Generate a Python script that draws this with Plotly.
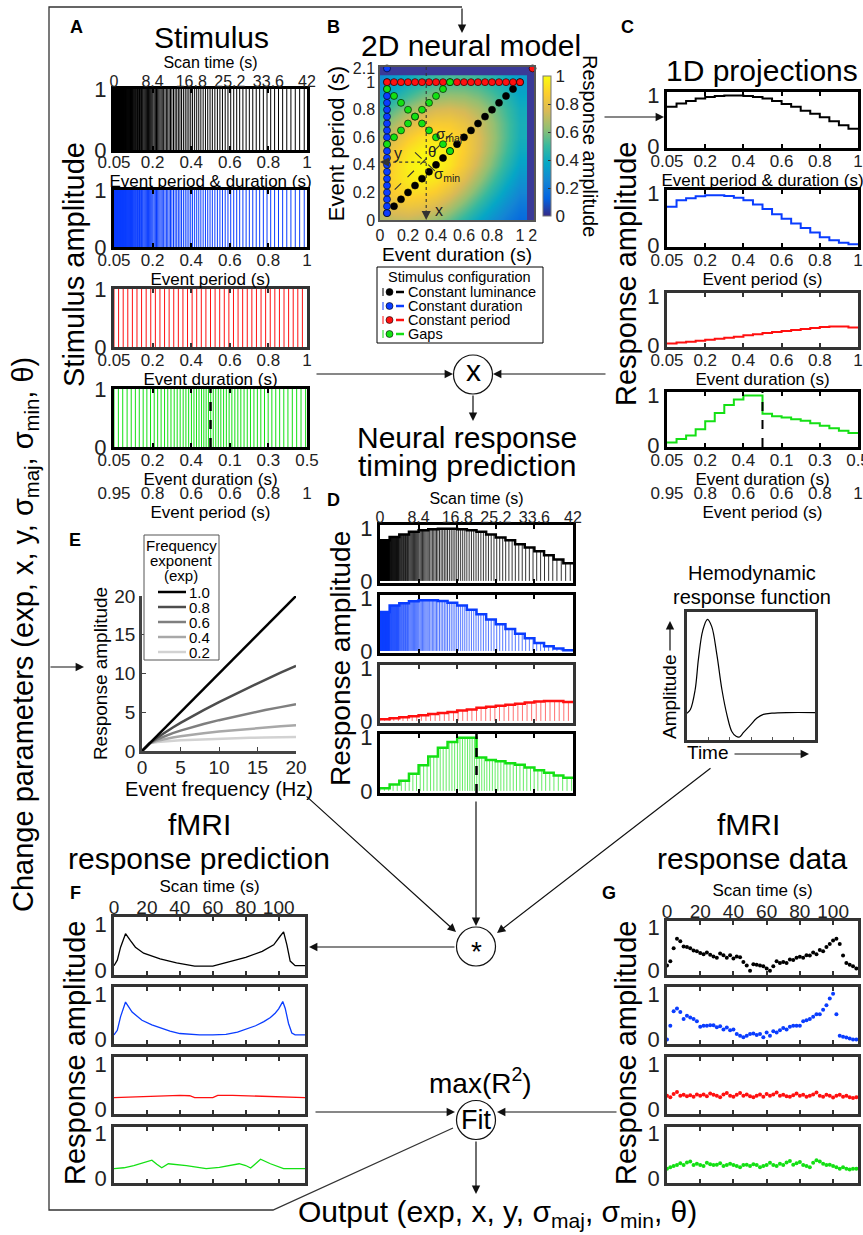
import plotly.graph_objects as go

W, H = 863, 1235
FONT = "Liberation Sans, Arial, Helvetica, sans-serif"


def X(px):
    return px / W


def Y(py):
    return 1 - py / H


# ------------------------------------------------------------------ data
event_values = [0.05, 0.10, 0.15, 0.20, 0.25, 0.30, 0.35, 0.40, 0.45, 0.50,
                0.55, 0.60, 0.65, 0.70, 0.75, 0.80, 0.85, 0.90, 0.95, 1.00]
period_lum = event_values
period_dur = event_values
period_per = [1.00] * 20
gap_duration = [0.05, 0.10, 0.15, 0.20, 0.25, 0.30, 0.35, 0.40, 0.45, 0.50,
                0.05, 0.10, 0.15, 0.20, 0.25, 0.30, 0.35, 0.40, 0.45, 0.50]
gap_period = [0.95, 0.90, 0.85, 0.80, 0.75, 0.70, 0.65, 0.60, 0.55, 0.50,
              0.55, 0.60, 0.65, 0.70, 0.75, 0.80, 0.85, 0.90, 0.95, 1.00]

scan_total = 42.0
scan_ticks = [0, 8.4, 16.8, 25.2, 33.6, 42]
scan_labels = ["0", "8.4", "16.8", "25.2", "33.6", "42"]
event_labels = ["0.05", "0.2", "0.4", "0.6", "0.8", "1"]
gap_dur_labels = ["0.05", "0.2", "0.4", "0.1", "0.3", "0.5"]
gap_per_labels = ["0.95", "0.8", "0.6", "0.6", "0.8", "1"]

resp_lum = [0.78, 0.84, 0.89, 0.94, 0.97, 0.99, 1.00, 1.00, 0.99, 0.97,
            0.94, 0.89, 0.83, 0.78, 0.70, 0.64, 0.57, 0.49, 0.41, 0.34]
resp_dur = [0.745, 0.87, 0.91, 0.95, 0.97, 0.97, 0.955, 0.92, 0.87, 0.79,
            0.70, 0.60, 0.51, 0.42, 0.33, 0.24, 0.15, 0.09, 0.045, 0.013]
resp_per = [0.03, 0.05, 0.07, 0.09, 0.11, 0.13, 0.15, 0.17, 0.20, 0.22,
            0.25, 0.27, 0.29, 0.31, 0.33, 0.35, 0.37, 0.38, 0.38, 0.36]
resp_gap = [0.05, 0.12, 0.19, 0.32, 0.48, 0.645, 0.81, 0.92, 1.00, 1.00,
            0.63, 0.58, 0.555, 0.52, 0.49, 0.44, 0.39, 0.34, 0.29, 0.245]

# 2D neural model (rows: event period 0..1, cols: event duration 0..1)
model_grid = [0.0, 0.1, 0.2, 0.3, 0.4, 0.5, 0.6, 0.7, 0.8, 0.9, 1.0]
model_z = [
    [0.668, 0.705, 0.711, 0.685, 0.631, 0.556, 0.468, 0.376, 0.290, 0.213, 0.150],
    [0.746, 0.800, 0.821, 0.805, 0.755, 0.677, 0.579, 0.474, 0.371, 0.278, 0.199],
    [0.795, 0.869, 0.907, 0.905, 0.863, 0.787, 0.686, 0.571, 0.455, 0.346, 0.252],
    [0.811, 0.901, 0.957, 0.972, 0.944, 0.875, 0.776, 0.658, 0.533, 0.413, 0.306],
    [0.790, 0.894, 0.966, 0.998, 0.986, 0.931, 0.840, 0.724, 0.597, 0.470, 0.354],
    [0.736, 0.847, 0.932, 0.980, 0.984, 0.945, 0.868, 0.762, 0.639, 0.512, 0.393],
    [0.656, 0.768, 0.859, 0.919, 0.940, 0.918, 0.858, 0.766, 0.654, 0.534, 0.416],
    [0.558, 0.665, 0.757, 0.824, 0.857, 0.853, 0.810, 0.736, 0.640, 0.531, 0.421],
    [0.454, 0.550, 0.638, 0.706, 0.748, 0.757, 0.732, 0.677, 0.598, 0.505, 0.408],
    [0.353, 0.436, 0.514, 0.579, 0.623, 0.642, 0.632, 0.594, 0.534, 0.459, 0.377],
    [0.263, 0.329, 0.395, 0.453, 0.497, 0.520, 0.521, 0.499, 0.456, 0.399, 0.334],
]
model_center = (0.33, 0.42)
b_break_x = 1.09   # display position of "2" s on the broken duration axis
b_break_y = 1.10   # display position of "2.1" s on the broken period axis
b_xticks = [0, 0.2, 0.4, 0.6, 0.8, 1.0, b_break_x]
b_xlabels = ["0", "0.2", "0.4", "0.6", "0.8", "1", "2"]
b_yticks = [0, 0.2, 0.4, 0.6, 0.8, 1.0, b_break_y]
b_ylabels = ["0", "0.2", "0.4", "0.6", "0.8", "1", "2.1"]
config_names = ["Constant luminance", "Constant duration", "Constant period", "Gaps"]

# E: frequency exponent
freq = [0, 1, 2, 3, 4, 5, 6, 8, 10, 12, 14, 16, 18, 20]
exponent_labels = ["1.0", "0.8", "0.6", "0.4", "0.2"]
resp_exp = [
    [0, 1, 2, 3, 4, 5, 6, 8, 10, 12, 14, 16, 18, 20],
    [0, 1, 1.74, 2.41, 3.03, 3.62, 4.19, 5.28, 6.31, 7.30, 8.26, 9.19, 10.10, 10.99],
    [0, 1, 1.52, 1.93, 2.30, 2.63, 2.93, 3.48, 3.98, 4.44, 4.87, 5.28, 5.66, 6.03],
    [0, 1, 1.32, 1.55, 1.74, 1.90, 2.05, 2.30, 2.51, 2.70, 2.87, 3.03, 3.18, 3.31],
    [0, 1, 1.15, 1.25, 1.32, 1.38, 1.43, 1.52, 1.58, 1.64, 1.70, 1.74, 1.78, 1.82],
]
exp_colors = ["#000000", "#4d4d4d", "#7f7f7f", "#a8a8a8", "#d2d2d2"]

# HRF
hrf_t = [0, 0.8, 1.9, 2.7, 3.7, 4.8, 5.8, 7.0, 8.2, 9.4, 10.5, 11.5, 12.3,
         13.2, 14.8, 16.4, 17.9, 19.9, 23.4, 30]
hrf_v = [0.20, 0.23, 0.39, 0.65, 0.88, 0.97, 0.91, 0.68, 0.39, 0.18, 0.05, 0.01,
         0.005, 0.04, 0.10, 0.16, 0.19, 0.20, 0.205, 0.205]

# F: fMRI response prediction
pred_lum_t = [0, 2, 4, 7, 10, 13, 18, 28, 38, 49, 60, 70, 80, 90, 97, 101, 103, 105, 107, 110, 116]
pred_lum_v = [0.10, 0.22, 0.50, 0.79, 0.64, 0.50, 0.37, 0.25, 0.16, 0.09, 0.09, 0.18, 0.28,
              0.41, 0.55, 0.74, 0.83, 0.55, 0.20, 0.10, 0.10]
pred_dur_t = [0, 2, 4, 7, 11, 17, 23, 28, 34, 40, 52, 60, 68, 75, 80, 86, 91, 95, 98, 100,
              102.5, 104, 106, 108, 110, 116]
pred_dur_v = [0.10, 0.20, 0.50, 0.82, 0.60, 0.42, 0.32, 0.25, 0.18, 0.13, 0.10, 0.10, 0.11,
              0.16, 0.23, 0.30, 0.39, 0.48, 0.58, 0.67, 0.83, 0.68, 0.35, 0.14, 0.10, 0.10]
pred_per_t = [0, 20, 40, 46, 49, 60, 63, 72, 81, 100, 116]
pred_per_v = [0.26, 0.29, 0.31, 0.30, 0.26, 0.26, 0.31, 0.31, 0.30, 0.28, 0.26]
pred_gap_t = [0, 6, 12, 18, 23, 26, 29, 33, 44, 56, 64, 76, 80, 83, 86, 89, 95, 103, 116]
pred_gap_v = [0.22, 0.24, 0.29, 0.36, 0.41, 0.32, 0.24, 0.33, 0.29, 0.22, 0.25, 0.33, 0.29,
              0.235, 0.33, 0.43, 0.33, 0.22, 0.22]

# G: fMRI response data (TR = 2 s)
tr = 2
data_lum = [0.12, 0.22, 0.52, 0.74, 0.68, 0.56, 0.55, 0.52, 0.47, 0.45,
            0.41, 0.38, 0.42, 0.37, 0.33, 0.30, 0.40, 0.36, 0.30, 0.36,
            0.28, 0.33, 0.31, 0.20, 0.12, 0.00, 0.15, 0.14, 0.12, 0.10,
            0.05, 0.00, 0.10, 0.22, 0.18, 0.20, 0.18, 0.26, 0.25, 0.30,
            0.32, 0.30, 0.36, 0.35, 0.42, 0.38, 0.48, 0.45, 0.55, 0.62,
            0.70, 0.74, 0.62, 0.35, 0.18, 0.14, 0.10, 0.05]
data_dur = [0.00, 0.30, 0.62, 0.68, 0.60, 0.45, 0.52, 0.48, 0.45, 0.40,
            0.28, 0.30, 0.30, 0.31, 0.31, 0.27, 0.29, 0.22, 0.26, 0.20,
            0.22, 0.12, 0.08, 0.05, 0.08, 0.12, 0.13, 0.10, 0.12, 0.05,
            0.15, 0.08, 0.18, 0.15, 0.20, 0.25, 0.22, 0.28, 0.30, 0.30,
            0.30, 0.40, 0.42, 0.45, 0.50, 0.55, 0.55, 0.65, 0.75, 0.90,
            1.00, 0.55, 0.08, 0.06, 0.04, 0.02, 0.00, 0.00]
data_per = [0.30, 0.27, 0.34, 0.38, 0.30, 0.32, 0.29, 0.31, 0.28, 0.33,
            0.30, 0.33, 0.29, 0.35, 0.32, 0.30, 0.27, 0.33, 0.36, 0.30,
            0.28, 0.32, 0.36, 0.30, 0.33, 0.29, 0.27, 0.30, 0.33, 0.28,
            0.34, 0.30, 0.33, 0.37, 0.30, 0.32, 0.29, 0.28, 0.31, 0.35,
            0.30, 0.32, 0.28, 0.30, 0.33, 0.37, 0.30, 0.28, 0.32, 0.30,
            0.26, 0.30, 0.32, 0.28, 0.30, 0.27, 0.25, 0.27]
data_gap = [0.22, 0.25, 0.28, 0.30, 0.34, 0.30, 0.36, 0.38, 0.30, 0.33,
            0.30, 0.28, 0.35, 0.32, 0.30, 0.31, 0.34, 0.28, 0.30, 0.33,
            0.30, 0.28, 0.25, 0.30, 0.31, 0.28, 0.32, 0.30, 0.25, 0.28,
            0.30, 0.35, 0.30, 0.28, 0.33, 0.30, 0.36, 0.39, 0.31, 0.34,
            0.37, 0.30, 0.28, 0.25, 0.35, 0.41, 0.38, 0.33, 0.30, 0.31,
            0.28, 0.25, 0.22, 0.25, 0.22, 0.20, 0.22, 0.22]
fmri_ticks = [0, 20, 40, 60, 80, 100]
fmri_labels = ["0", "20", "40", "60", "80", "100"]

COL_K, COL_B, COL_R, COL_G = "#000000", "#0a3dff", "#ff1010", "#14e014"
STEM = ["rgba(0,0,0,0.8)", "rgba(10,61,255,0.7)", "rgba(255,16,16,0.6)", "rgba(20,224,20,0.65)"]
PARULA = [[0.0, "#352a87"], [0.125, "#0363e1"], [0.25, "#1485d4"], [0.375, "#06a7c6"],
          [0.5, "#38b99e"], [0.625, "#92bf73"], [0.75, "#d9ba56"], [0.875, "#fcce2e"],
          [1.0, "#f9fb0e"]]
FRAME_BLUE = "#3a3a98"

# ------------------------------------------------------------------ helpers
fig = go.Figure()
lay = dict(width=W, height=H, margin=dict(l=0, r=0, t=0, b=0), template="none",
           paper_bgcolor="white", plot_bgcolor="white", showlegend=False,
           font=dict(family=FONT, color="black", size=16), hovermode=False)
ann, shp = [], []
cnt = {"x": 0, "y": 0}


def nid(k):
    cnt[k] += 1
    return "" if cnt[k] == 1 else str(cnt[k])


def add_panel(box, xa, ya):
    l, t, r, b = box
    sx, sy = nid("x"), nid("y")
    lay["xaxis" + sx] = dict(xa, domain=[X(l), X(r)], anchor="y" + sy)
    lay["yaxis" + sy] = dict(ya, domain=[Y(b), Y(t)], anchor="x" + sx)
    return "x" + sx, "y" + sy


def add_overlay_x(xid, yid, xa):
    sx = nid("x")
    d = dict(xa, overlaying=xid)
    d.setdefault("anchor", yid)
    lay["xaxis" + sx] = d
    fig.add_trace(go.Scatter(x=[xa["range"][0]], y=[None], mode="markers",
                             xaxis="x" + sx, yaxis=yid, showlegend=False, hoverinfo="skip"))
    return "x" + sx


def xbox(rng, tickvals, ticktext, labels=True, side="bottom", color="black", lw=3,
         size=17, title=None, tsize=17, standoff=0, mirror="allticks"):
    d = dict(range=rng, showline=True, mirror=mirror, linecolor=color, linewidth=lw,
             ticks="inside", ticklen=4, tickwidth=1.5, tickcolor=color,
             tickvals=tickvals, ticktext=ticktext, showgrid=False, zeroline=False,
             side=side, showticklabels=labels, tickfont=dict(size=size, color="#222"),
             ticklabeloverflow="allow",
             ticklabelstandoff=(-7 if side == "top" else -4))
    if title:
        d["title"] = dict(text=title, font=dict(size=tsize), standoff=standoff)
    return d


def xlabels(rng, tickvals, ticktext, size=17, title=None, tsize=17, standoff=0, **kw):
    d = dict(range=rng, showline=False, ticks="", tickvals=tickvals, ticktext=ticktext,
             showgrid=False, zeroline=False, side="bottom", ticklabeloverflow="allow",
             tickfont=dict(size=size, color="#222"), **kw)
    if title:
        d["title"] = dict(text=title, font=dict(size=tsize), standoff=standoff)
    return d


def ybox(rng, color="black", lw=3, size=22, tickvals=(0, 1)):
    return dict(range=rng, showline=True, mirror=True, linecolor=color, linewidth=lw,
                ticks="", tickvals=list(tickvals), showgrid=False, zeroline=False,
                tickfont=dict(size=size, color="#222"))


def onsets(periods, block):
    t, out, blk = 0.0, [], []
    total = block * len(periods)
    while t < total - 1e-9:
        b = min(int(t / block + 1e-9), len(periods) - 1)
        out.append(t)
        blk.append(b)
        t += periods[b]
    return out, blk


def stem_xy(ts, hs):
    xs, ys = [], []
    for t, h in zip(ts, hs):
        xs += [t, t, None]
        ys += [0, h, None]
    return xs, ys


def stair_xy(vals, block):
    xs = [i * block for i in range(len(vals) + 1)]
    ys = list(vals) + [vals[-1]]
    return xs, ys


def txt(s, x, y, size, angle=0, xanchor="center", color="black"):
    ann.append(dict(text=s, x=X(x), y=Y(y), xref="paper", yref="paper", showarrow=False,
                    font=dict(size=size, family=FONT, color=color), textangle=angle,
                    xanchor=xanchor, yanchor="middle"))


def arrow(tip, tail, width=1.2):
    ann.append(dict(x=X(tip[0]), y=Y(tip[1]), xref="paper", yref="paper",
                    ax=tail[0] - tip[0], ay=tail[1] - tip[1], axref="pixel", ayref="pixel",
                    showarrow=True, arrowhead=2, arrowsize=1.4, arrowwidth=width,
                    arrowcolor="#111", text=""))


def pline(p0, p1, color="#111", width=1.2, dash=None):
    d = dict(type="line", xref="paper", yref="paper", x0=X(p0[0]), y0=Y(p0[1]),
             x1=X(p1[0]), y1=Y(p1[1]), line=dict(color=color, width=width))
    if dash:
        d["line"]["dash"] = dash
    shp.append(d)


def circle(cx, cy, r=19.5):
    shp.append(dict(type="circle", xref="paper", yref="paper", x0=X(cx - r), x1=X(cx + r),
                    y0=Y(cy + r), y1=Y(cy - r), line=dict(color="#111", width=1.2),
                    fillcolor="white"))


BLOCK = scan_total / len(event_values)
series = [
    ("lum", period_lum, resp_lum, COL_K, STEM[0], "black", "Event period &amp; duration (s)", event_labels),
    ("dur", period_dur, resp_dur, COL_B, STEM[1], "black", "Event period (s)", event_labels),
    ("per", period_per, resp_per, COL_R, STEM[2], "#333333", "Event duration (s)", event_labels),
    ("gap", gap_period, resp_gap, COL_G, STEM[3], "black", "Event duration (s)", gap_dur_labels),
]

# ------------------------------------------------------------------ A: stimulus
A_boxes = [(114, 89, 307, 150), (114, 190, 307, 247), (114, 289, 307, 347), (114, 389, 307, 447)]
for i, (box, s) in enumerate(zip(A_boxes, series)):
    key, per, resp, col, scol, bc, xt, lbl = s
    if i == 0:
        xa = xbox([0, scan_total], scan_ticks, scan_labels, side="top", color=bc, size=16,
                  title="Scan time (s)", tsize=16)
    else:
        xa = xbox([0, scan_total], scan_ticks, lbl, color=bc, title=xt)
    xid, yid = add_panel(box, xa, ybox([0, 1], color=bc))
    if i == 0:
        add_overlay_x(xid, yid, xlabels([0, scan_total], scan_ticks, lbl, title=xt))
    ts, _ = onsets(per, BLOCK)
    xs, ys = stem_xy(ts, [1] * len(ts))
    fig.add_trace(go.Scatter(x=xs, y=ys, mode="lines", line=dict(color=col, width=1),
                             xaxis=xid, yaxis=yid, showlegend=False, hoverinfo="skip"))
    if key == "gap":
        add_overlay_x(xid, yid, xlabels([0, scan_total], scan_ticks, gap_per_labels,
                                        title="Event period (s)", anchor="free", position=Y(481)))
        shp.append(dict(type="line", xref=xid, yref=yid + " domain", x0=scan_total / 2,
                        x1=scan_total / 2, y0=0, y1=1,
                        line=dict(color="black", width=2.5, dash="dash")))

# ------------------------------------------------------------------ C: 1D projections
C_boxes = [(667, 92, 858, 148), (667, 190, 858, 247), (667, 293, 858, 347), (667, 392, 858, 447)]
for i, (box, s) in enumerate(zip(C_boxes, series)):
    key, per, resp, col, scol, bc, xt, lbl = s
    xa = xbox([0, scan_total], scan_ticks, lbl, color=bc, title=xt)
    xid, yid = add_panel(box, xa, ybox([-0.04, 1.07], color=bc))
    xs, ys = stair_xy(resp, BLOCK)
    fig.add_trace(go.Scatter(x=xs, y=ys, mode="lines", line=dict(color=col, width=2, shape="hv"),
                             xaxis=xid, yaxis=yid, showlegend=False, hoverinfo="skip"))
    if key == "gap":
        add_overlay_x(xid, yid, xlabels([0, scan_total], scan_ticks, gap_per_labels,
                                        title="Event period (s)", anchor="free", position=Y(481)))
        shp.append(dict(type="line", xref=xid, yref=yid + " domain", x0=scan_total / 2,
                        x1=scan_total / 2, y0=0, y1=1,
                        line=dict(color="black", width=2, dash="dash")))

# ------------------------------------------------------------------ D: neural response timing
D_boxes = [(380, 525, 573, 583), (380, 595, 573, 653), (380, 665, 573, 723), (380, 734, 573, 793)]
for i, (box, s) in enumerate(zip(D_boxes, series)):
    key, per, resp, col, scol, bc, xt, lbl = s
    if i == 0:
        xa = xbox([0, scan_total], scan_ticks, scan_labels, side="top", color=bc, size=16,
                  title="Scan time (s)", tsize=16)
    else:
        xa = xbox([0, scan_total], scan_ticks, scan_labels, labels=False, color=bc)
    xid, yid = add_panel(box, xa, ybox([-0.04, 1.07], color=bc))
    ts, blk = onsets(per, BLOCK)
    xs, ys = stem_xy(ts, [resp[b] for b in blk])
    fig.add_trace(go.Scatter(x=xs, y=ys, mode="lines", line=dict(color=scol, width=1),
                             xaxis=xid, yaxis=yid, showlegend=False, hoverinfo="skip"))
    xs, ys = stair_xy(resp, BLOCK)
    fig.add_trace(go.Scatter(x=xs, y=ys, mode="lines", line=dict(color=col, width=2.5, shape="hv"),
                             xaxis=xid, yaxis=yid, showlegend=False, hoverinfo="skip"))
    if key == "gap":
        shp.append(dict(type="line", xref=xid, yref=yid + " domain", x0=scan_total / 2,
                        x1=scan_total / 2, y0=0, y1=1,
                        line=dict(color="black", width=2.5, dash="dash")))

# ------------------------------------------------------------------ B: 2D neural model
bx_axis = dict(range=[0, 1.1], tickvals=b_xticks, ticktext=b_xlabels, showline=True, mirror=True,
               linecolor="#555", linewidth=1.5, ticks="", showgrid=False, zeroline=False,
               tickfont=dict(size=16, color="#222"),
               title=dict(text="Event duration (s)", font=dict(size=19), standoff=0))
by_axis = dict(range=[0, 1.11], tickvals=b_yticks, ticktext=b_ylabels, showline=True, mirror=True,
               linecolor="#555", linewidth=1.5, ticks="", showgrid=False, zeroline=False,
               tickfont=dict(size=16, color="#222"),
               title=dict(text="Event period (s)", font=dict(size=22), standoff=2))
bxid, byid = add_panel((380, 67, 534, 220), bx_axis, by_axis)
shp.append(dict(type="rect", xref=bxid, yref=byid, x0=0, x1=1.1, y0=0, y1=1.11,
                fillcolor=FRAME_BLUE, line=dict(width=0), layer="below"))
fig.add_trace(go.Heatmap(x=model_grid, y=model_grid, z=model_z, zmin=0, zmax=1, zsmooth="best",
                         colorscale=PARULA, xaxis=bxid, yaxis=byid, hoverinfo="skip",
                         colorbar=dict(x=X(543), xanchor="left", y=Y(146), yanchor="middle",
                                       len=140, lenmode="pixels", thickness=8,
                                       thicknessmode="pixels", xpad=0, ypad=0,
                                       tickvals=[0, 0.2, 0.4, 0.6, 0.8, 1],
                                       ticktext=["0", "0.2", "0.4", "0.6", "0.8", "1"],
                                       ticks="inside", ticklen=3, tickcolor="#333",
                                       tickfont=dict(size=17, color="#222"),
                                       outlinewidth=1, outlinecolor="#777")))
cx0, cy0 = model_center
for (x0, y0, x1, y1, dash) in [(cx0, 1.11, cx0, 0.03, "dot"), (cx0, cy0, 0.03, cy0, "dot"),
                               (cx0 - 0.225, cy0 - 0.2, cx0 + 0.225, cy0 + 0.25, "dash"),
                               (cx0 - 0.08, cy0 + 0.07, cx0 + 0.1, cy0 - 0.1, "dash")]:
    shp.append(dict(type="line", xref=bxid, yref=byid, x0=x0, y0=y0, x1=x1, y1=y1,
                    line=dict(color="#333", width=1.1, dash=dash)))
ann.append(dict(x=cx0, y=0.0, xref=bxid, yref=byid, ax=0, ay=-11, showarrow=True, arrowhead=2,
                arrowsize=1.3, arrowwidth=1.4, arrowcolor="#333", text=""))
ann.append(dict(x=0.0, y=cy0, xref=bxid, yref=byid, ax=11, ay=0, showarrow=True, arrowhead=2,
                arrowsize=1.3, arrowwidth=1.4, arrowcolor="#333", text=""))
for s, xx, yy, fs in [("y", 0.13, 0.48, 16), ("x", 0.42, 0.07, 16), ("θ", 0.37, 0.5, 15),
                      ("σ<sub>maj</sub>", 0.49, 0.62, 15), ("σ<sub>min</sub>", 0.48, 0.33, 15)]:
    ann.append(dict(text=s, x=xx, y=yy, xref=bxid, yref=byid, showarrow=False,
                    font=dict(size=fs, color="#222", family=FONT)))

b_sets = [
    (config_names[0], event_values, event_values, COL_K),
    (config_names[1], [0.05] * 20 + [0.05], event_values + [b_break_y], COL_B),
    (config_names[2], event_values + [b_break_x], [1.0] * 20 + [b_break_y], COL_R),
    (config_names[3], gap_duration, gap_period, COL_G),
]
for name, xs, ys, col in b_sets:
    fig.add_trace(go.Scatter(x=xs, y=ys, mode="markers", name=name, xaxis=bxid, yaxis=byid,
                             marker=dict(color=col, size=7, line=dict(color="black", width=0.6)),
                             cliponaxis=False, hoverinfo="skip"))

# legend box for B (stimulus configuration)
shp.append(dict(type="rect", xref="paper", yref="paper", x0=X(377), x1=X(543), y0=Y(343), y1=Y(267),
                line=dict(color="black", width=1), fillcolor="white"))
txt("Stimulus configuration", 460, 277, 14.5)
for k, (name, xs, ys, col) in enumerate(b_sets):
    yy = 292 + 14 * k
    pline((383, yy - 4), (383, yy + 4), color=col, width=1)
    shp.append(dict(type="circle", xref="paper", yref="paper", xsizemode="pixel", ysizemode="pixel",
                    xanchor=X(389.5), yanchor=Y(yy), x0=-3.5, x1=3.5, y0=-3.5, y1=3.5,
                    fillcolor=col, line=dict(color="black", width=0.6)))
    pline((396, yy), (404, yy), color=col, width=2.5)
    txt(name, 406, yy, 14.5, xanchor="left")

# ------------------------------------------------------------------ E: frequency exponent
ex_axis = dict(range=[0, 20], tickvals=[0, 5, 10, 15, 20], showline=True, linecolor="#444",
               linewidth=2.5, ticks="inside", ticklen=4, tickcolor="#444", showgrid=False,
               zeroline=False, tickfont=dict(size=19, color="#222"), ticklabelstandoff=-3,
               title=dict(text="Event frequency (Hz)", font=dict(size=20), standoff=0))
ey_axis = dict(range=[0, 20], tickvals=[0, 5, 10, 15, 20], showline=True, linecolor="#444",
               linewidth=2.5, ticks="inside", ticklen=4, tickcolor="#444", showgrid=False,
               zeroline=False, tickfont=dict(size=19, color="#222"),
               title=dict(text="Response amplitude", font=dict(size=19), standoff=2))
exid, eyid = add_panel((142, 596, 296, 751), ex_axis, ey_axis)
for lbl, vals, col in list(zip(exponent_labels, resp_exp, exp_colors))[::-1]:
    fig.add_trace(go.Scatter(x=freq, y=vals, mode="lines", name=lbl, line=dict(color=col, width=2.5),
                             xaxis=exid, yaxis=eyid, hoverinfo="skip"))
shp.append(dict(type="rect", xref="paper", yref="paper", x0=X(144), x1=X(219), y0=Y(660), y1=Y(535),
                line=dict(color="#555", width=1), fillcolor="white"))
for k, line_txt in enumerate(["Frequency", "exponent", "(exp)"]):
    txt(line_txt, 181, 545 + 15 * k, 15)
for k, (lbl, col) in enumerate(zip(exponent_labels, exp_colors)):
    yy = 592 + 15 * k
    pline((158, yy), (186, yy), color=col, width=2.5)
    txt(lbl, 187, yy, 15, xanchor="left")

# ------------------------------------------------------------------ HRF
hx_axis = dict(range=[0, 30], tickvals=[5, 10, 15, 20, 25], showticklabels=False, showline=True,
               mirror=True, linecolor="#333", linewidth=2.5, ticks="inside", ticklen=3,
               tickcolor="#555", showgrid=False, zeroline=False)
hy_axis = dict(range=[-0.02, 1.03], showticklabels=False, showline=True, mirror=True,
               linecolor="#333", linewidth=2.5, ticks="", showgrid=False, zeroline=False)
hxid, hyid = add_panel((687, 612, 815, 740), hx_axis, hy_axis)
fig.add_trace(go.Scatter(x=hrf_t, y=hrf_v, mode="lines", line=dict(color="black", width=1.2, shape="spline"),
                         xaxis=hxid, yaxis=hyid, showlegend=False, hoverinfo="skip"))

# ------------------------------------------------------------------ F: fMRI prediction
F_boxes = [(114, 917, 305, 975), (114, 987, 305, 1044), (114, 1057, 305, 1114), (114, 1127, 305, 1183)]
F_series = [(pred_lum_t, pred_lum_v, COL_K), (pred_dur_t, pred_dur_v, COL_B),
            (pred_per_t, pred_per_v, COL_R), (pred_gap_t, pred_gap_v, COL_G)]
for i, (box, (tt, vv, col)) in enumerate(zip(F_boxes, F_series)):
    xa = xbox([0, 116], fmri_ticks, fmri_labels, labels=(i == 0), side="top", color="#333", lw=2.5,
              size=19, title="Scan time (s)" if i == 0 else None, tsize=17)
    xid, yid = add_panel(box, xa, ybox([-0.1, 1.15], color="#333", lw=2.5))
    fig.add_trace(go.Scatter(x=tt, y=vv, mode="lines", line=dict(color=col, width=1.3),
                             xaxis=xid, yaxis=yid, showlegend=False, hoverinfo="skip"))

# ------------------------------------------------------------------ G: fMRI data
G_boxes = [(667, 921, 858, 975), (667, 987, 858, 1044), (667, 1057, 858, 1114), (667, 1127, 858, 1183)]
G_series = [(data_lum, COL_K), (data_dur, COL_B), (data_per, COL_R), (data_gap, COL_G)]
for i, (box, (vv, col)) in enumerate(zip(G_boxes, G_series)):
    xa = xbox([0, 115], fmri_ticks, fmri_labels, labels=(i == 0), side="top", color="#333", lw=2.5,
              size=19, title="Scan time (s)" if i == 0 else None, tsize=17)
    xid, yid = add_panel(box, xa, ybox([-0.1, 1.15], color="#333", lw=2.5))
    fig.add_trace(go.Scatter(x=[tr * k for k in range(len(vv))], y=vv, mode="markers",
                             marker=dict(color=col, size=4), xaxis=xid, yaxis=yid,
                             showlegend=False, hoverinfo="skip"))

# ------------------------------------------------------------------ text
for letter, x, y in [("A", 76, 27), ("B", 333, 27), ("C", 627, 27), ("D", 333, 500),
                     ("E", 75, 540), ("F", 75, 893), ("G", 609, 893)]:
    txt("<b>%s</b>" % letter, x, y, 18)
txt("Stimulus", 211, 37, 30)
txt("2D neural model", 471, 46, 30)
txt("1D projections", 762, 71, 30)
txt("Stimulus amplitude", 74, 265, 29, angle=-90)
txt("Response amplitude", 626, 274, 29, angle=-90)
txt("Response amplitude", 590, 146, 20, angle=90)
txt("Neural response", 467, 437, 30)
txt("timing prediction", 467, 465, 30)
txt("Response amplitude", 341, 659, 28, angle=-90)
txt("Hemodynamic", 752, 573, 20)
txt("response function", 752, 597, 20)
txt("Amplitude", 670, 697, 19, angle=-90)
txt("Time", 708, 752, 19)
txt("fMRI", 199, 824, 30)
txt("response prediction", 199, 858, 30)
txt("fMRI", 748, 824, 30)
txt("response data", 752, 858, 30)
txt("Response amplitude", 75, 1053, 29, angle=-90)
txt("Response amplitude", 626, 1053, 29, angle=-90)
txt("max(R<sup>2</sup>)", 480, 1081, 28)
txt("Output (exp, x, y, σ<sub>maj</sub>, σ<sub>min</sub>, θ)", 498, 1213, 30)
txt("Change parameters (exp, x, y, σ<sub>maj</sub>, σ<sub>min</sub>, θ)", 25, 635, 29, angle=-90)

# ------------------------------------------------------------------ flow diagram
shp.append(dict(type="path", xref="paper", yref="paper",
                path="M %f,%f L %f,%f L %f,%f L %f,%f L %f,%f" % (
                    X(453), Y(1128), X(273), Y(1210), X(49), Y(1210), X(49), Y(7), X(462), Y(7)),
                line=dict(color="#333", width=1.3)))
circle(473, 374.5)
circle(476, 946.5)
circle(476, 1120)
txt("x", 473, 371, 30)
txt("*", 476, 951, 28)
txt("Fit", 476, 1120, 27)
arrow((462, 33), (462, 7))
arrow((664, 117), (603, 117))
arrow((453, 374), (315, 374))
arrow((493, 374), (607, 374))
arrow((473, 421), (473, 394))
arrow((84, 667), (49, 667))
arrow((456, 932), (305, 795))
arrow((476, 926), (476, 800))
arrow((497, 933), (712, 767))
arrow((309, 947), (456, 947))
arrow((455, 1112), (314, 1112))
arrow((497, 1112), (618, 1112))
arrow((476, 1194), (476, 1140))
arrow((670, 621), (670, 652))
arrow((809, 754), (733, 754))

lay["annotations"] = ann
lay["shapes"] = shp
fig.update_layout(**lay)
fig.write_html("out.html")
